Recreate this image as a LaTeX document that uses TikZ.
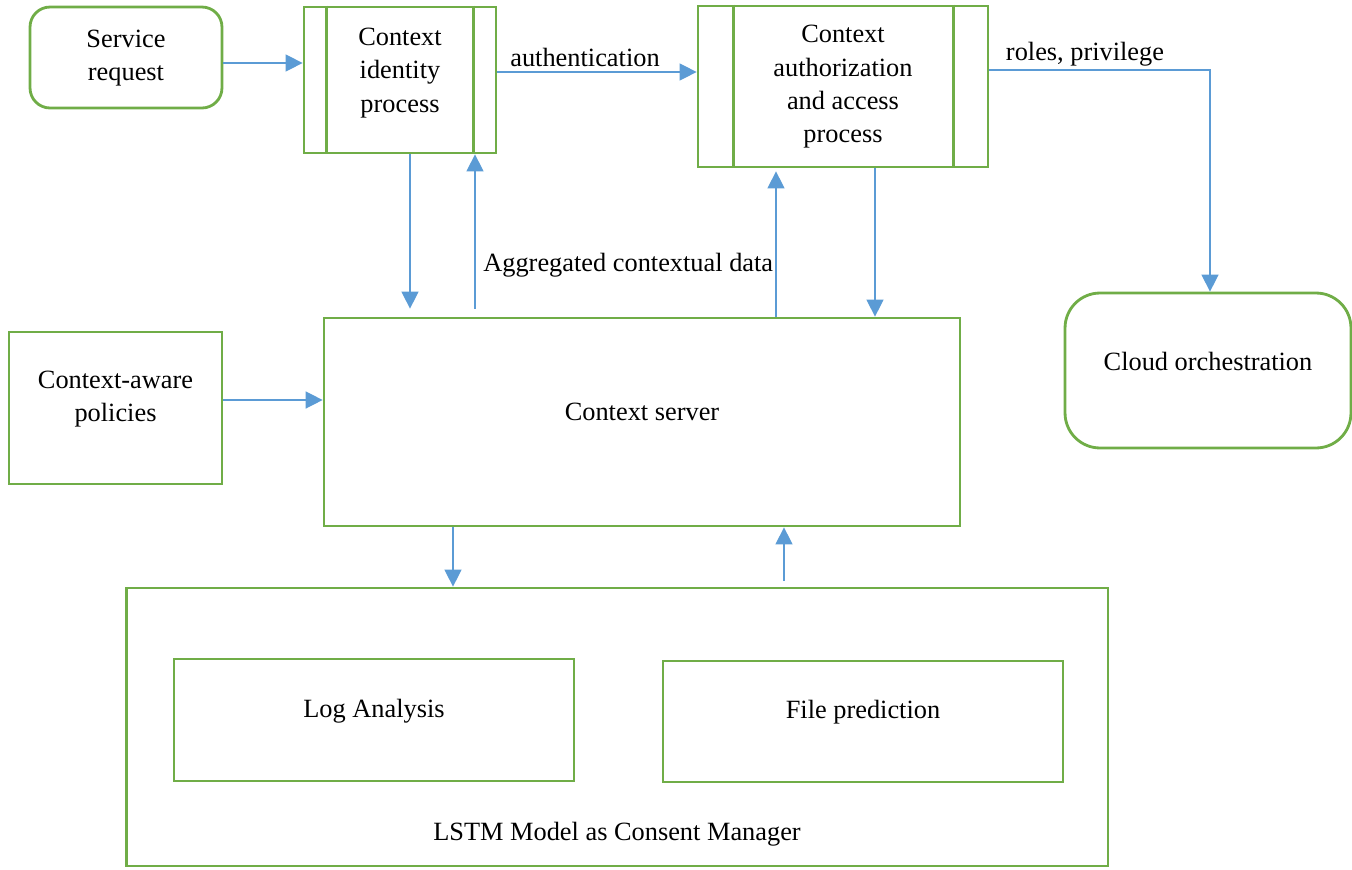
\documentclass[tikz,border=0pt]{standalone}
\usepackage{fontspec}
\setmainfont{Liberation Serif}
\usetikzlibrary{arrows.meta,calc}
\definecolor{gr}{HTML}{70AD47}
\definecolor{bl}{HTML}{5B9BD5}
\begin{document}
\begin{tikzpicture}[x=0.02cm,y=-0.02cm,
  font=\fontsize{15}{19}\selectfont,
  box/.style={draw=gr,line width=1.6pt,inner sep=0pt,align=center},
  rbox/.style={box,rounded corners=0.4cm},
  arr/.style={draw=bl,line width=0.8pt,-{Triangle[width=0.34cm,length=0.34cm]}},
  txt/.style={inner sep=0pt,align=center}]
\useasboundingbox (0,0) rectangle (1352,869);
% nodes
\node[rbox,minimum width=3.84cm,minimum height=2.02cm] (serv) at (126,57.5) {};
\node[txt] (servt) at (126,58) {Service\\request};
\node[box,minimum width=3.84cm,minimum height=2.92cm] (ident) at (400,80) {};
\draw[gr,line width=1.6pt] ($(ident.north west)+(24,0)$) -- ($(ident.south west)+(24,0)$)
  ($(ident.north east)+(-24,0)$) -- ($(ident.south east)+(-24,0)$);
\node[txt] (identt) at (400,73) {Context\\identity\\process};
\node[box,minimum width=5.8cm,minimum height=3.22cm] (auth) at (843,86.5) {};
\draw[gr,line width=1.6pt] ($(auth.north west)+(37,0)$) -- ($(auth.south west)+(37,0)$)
  ($(auth.north east)+(-36,0)$) -- ($(auth.south east)+(-36,0)$);
\node[txt] (autht) at (843,87) {Context\\authorization\\and access\\process};
\node[box,rounded corners=0.7cm,minimum width=5.72cm,minimum height=3.1cm] (cloud) at (1208,370.5) {};
\node[txt] (cloudt) at (1208,361) {Cloud orchestration};
\node[box,minimum width=4.26cm,minimum height=3.04cm] (pol) at (115.5,408) {};
\node[txt] (polt) at (115.5,399) {Context-aware\\policies};
\node[box,minimum width=12.72cm,minimum height=4.16cm] (server) at (642,422) {};
\node[txt] (servert) at (642,412) {Context server};
\node[box,minimum width=19.64cm,minimum height=5.56cm] (lstm) at (617,727) {};
\node[txt] (lstmt) at (617,834) {LSTM Model as Consent Manager};
\node[box,minimum width=8cm,minimum height=2.44cm] (log) at (374,720) {};
\node[txt] (logt) at (374,711) {Log Analysis};
\node[box,minimum width=8cm,minimum height=2.42cm] (file) at (863,721.5) {};
\node[txt] (filet) at (863,712) {File prediction};
% connectors
\coordinate (s1) at ($(serv.east)+(0,5.5)$);
\draw[arr] (s1) -- (s1 -| ident.west);
\coordinate (i1) at ($(ident.east)+(0,-8)$);
\draw[arr] (i1) -- (i1 -| auth.west);
\node[txt,anchor=south] (authl) at (585,67) {authentication};
\coordinate (a1) at ($(auth.east)+(0,-16.5)$);
\coordinate (c1) at ($(cloud.north)+(2,0)$);
\draw[arr] (a1) -| (c1);
\node[txt,anchor=south] (rolel) at (1085,67) {roles, privilege};
\coordinate (d1) at ($(ident.south)+(10,0)$);
\draw[arr,shorten >=0.16cm] (d1) -- (d1 |- server.north);
\coordinate (u1) at ($(ident.south)+(75,0)$);
\draw[arr,shorten <=0.16cm] (u1 |- server.north) -- (u1);
\node[txt,anchor=west] (aggl) at (483,265) {Aggregated contextual data};
\coordinate (u2) at ($(auth.south)+(-67,0)$);
\draw[arr,shorten >=0.06cm] (u2 |- server.north) -- (u2);
\coordinate (d2) at ($(auth.south)+(32,0)$);
\draw[arr] (d2) -- (d2 |- server.north);
\coordinate (p1) at ($(pol.east)+(0,-8)$);
\draw[arr] (p1) -- (p1 -| server.west);
\coordinate (d3) at ($(server.south)+(-189,0)$);
\draw[arr] (d3) -- (d3 |- lstm.north);
\coordinate (u3) at ($(server.south)+(142,0)$);
\draw[arr,shorten <=0.12cm] (u3 |- lstm.north) -- (u3);
\end{tikzpicture}
\end{document}
